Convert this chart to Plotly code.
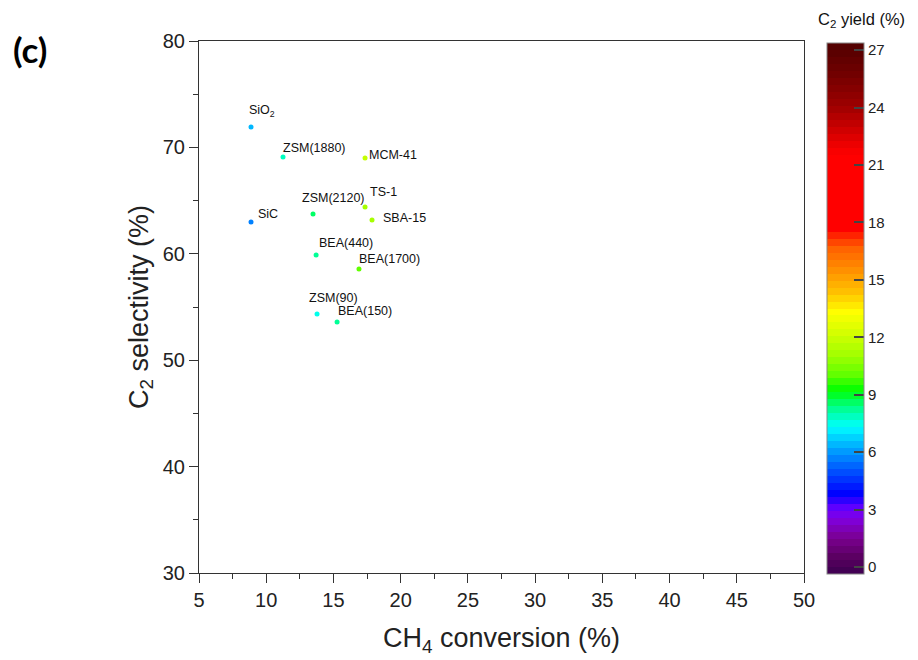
import plotly.graph_objects as go

# Catalyst screening: CH4 conversion vs C2 selectivity, coloured by C2 yield
catalysts = ["SiO<sub>2</sub>", "SiC", "ZSM(1880)", "MCM-41", "TS-1", "SBA-15",
             "ZSM(2120)", "BEA(440)", "BEA(1700)", "ZSM(90)", "BEA(150)"]
ch4_conversion = [8.87, 8.87, 11.25, 17.35, 17.35, 17.87, 13.48, 13.71, 16.90, 13.78, 15.27]
c2_selectivity = [71.92, 62.99, 69.10, 69.00, 64.40, 63.18, 63.74, 59.89, 58.57, 54.34, 53.59]
c2_yield = [6.4, 5.6, 7.8, 12.0, 11.2, 11.3, 8.6, 8.2, 9.9, 7.5, 8.2]

x_ticks = [5, 10, 15, 20, 25, 30, 35, 40, 45, 50]
y_ticks = [30, 40, 50, 60, 70, 80]
cbar_ticks = [0, 3, 6, 9, 12, 15, 18, 21, 24, 27]

# label offsets in pixels (left edge of text relative to the marker, dy downwards)
label_offsets = {
    "SiO<sub>2</sub>": (-4, -16), "SiC": (5, -8), "ZSM(1880)": (-2, -9),
    "MCM-41": (2, -3), "TS-1": (3, -15), "SBA-15": (9, -2),
    "ZSM(2120)": (-13, -16), "BEA(440)": (1, -12), "BEA(1700)": (-2, -10),
    "ZSM(90)": (-10, -16), "BEA(150)": (-1, -11),
}

# banded rainbow colour scale
cmin, cmax = -0.37, 27.37
anchors = [(-0.37, "#3c0050"), (0.5, "#5a0060"), (1.5, "#7a0090"), (2.5, "#8000e0"),
           (3.0, "#6a00ff"), (3.8, "#0000ff"), (5.2, "#0060ff"), (6.3, "#00b0ff"),
           (7.3, "#00ffff"), (8.4, "#00ff80"), (9.2, "#00ff00"), (10.0, "#60ff00"),
           (11.0, "#a0ff00"), (12.1, "#d0ff00"), (13.3, "#ffff00"), (14.4, "#ffc000"),
           (15.5, "#ff9000"), (16.7, "#ff6000"), (17.2, "#ff3000"), (17.7, "#ff0000"),
           (21.5, "#ff0000"), (22.0, "#f00000"), (22.8, "#d00000"), (24.0, "#a00000"),
           (25.8, "#700000"), (27.37, "#500000")]


def hex_rgb(h):
    return tuple(int(h[i:i + 2], 16) for i in (1, 3, 5))


def color_at(v):
    for (v0, c0), (v1, c1) in zip(anchors[:-1], anchors[1:]):
        if v <= v1:
            t = 0 if v1 == v0 else (v - v0) / (v1 - v0)
            t = min(max(t, 0), 1)
            a, b = hex_rgb(c0), hex_rgb(c1)
            return "rgb(%d,%d,%d)" % tuple(round(a[k] + (b[k] - a[k]) * t) for k in range(3))
    return "rgb(%d,%d,%d)" % hex_rgb(anchors[-1][1])


n_bands = 76
colorscale = []
for i in range(n_bands):
    c = color_at(cmin + (i + 0.5) / n_bands * (cmax - cmin))
    colorscale.append([i / n_bands, c])
    colorscale.append([(i + 1) / n_bands, c])

fig = go.Figure()
fig.add_trace(go.Scatter(
    x=ch4_conversion, y=c2_selectivity, mode="markers",
    marker=dict(size=5, color=c2_yield, colorscale=colorscale, cmin=cmin, cmax=cmax,
                line=dict(width=0),
                colorbar=dict(
                    thickness=37, len=0.998, lenmode="fraction", y=0.996, yanchor="top",
                    x=1.038, xanchor="left", xpad=0, ypad=0,
                    outlinecolor="#888888", outlinewidth=1,
                    tickmode="array", tickvals=cbar_ticks, ticks="inside", ticklen=10,
                    tickcolor="#444444", tickwidth=1.5,
                    tickfont=dict(family="Arial", size=15, color="#222222"),
                )),
    hoverinfo="skip", showlegend=False,
))

for name, cx, cy in zip(catalysts, ch4_conversion, c2_selectivity):
    dx, dy = label_offsets[name]
    fig.add_annotation(x=cx, y=cy, xref="x", yref="y", text=name, showarrow=False,
                       xanchor="left", yanchor="middle", xshift=dx, yshift=-dy,
                       font=dict(family="Arial", size=12.5, color="#111111"))

# colour bar heading and panel letter
fig.add_annotation(x=1.095, y=1.04, xref="paper", yref="paper",
                   text="C<sub>2</sub> yield (%)", showarrow=False,
                   xanchor="center", yanchor="middle",
                   font=dict(family="Arial", size=16.5, color="#111111"))
fig.add_annotation(x=-0.279, y=0.985, xref="paper", yref="paper", text="<b>(c)</b>",
                   showarrow=False, xanchor="center", yanchor="middle",
                   font=dict(family="Lato", size=35, color="#000000"))

axis_common = dict(showline=True, mirror=True, linecolor="#333333", linewidth=1.2,
                   ticks="outside", ticklen=9, tickwidth=1.2, tickcolor="#333333",
                   showgrid=False, zeroline=False,
                   tickfont=dict(family="Arial", size=20, color="#222222"))

fig.update_layout(
    width=918, height=660,
    margin=dict(l=199, r=114, t=41, b=87),
    paper_bgcolor="white", plot_bgcolor="white",
    xaxis=dict(range=[5, 50], tickmode="array", tickvals=x_ticks,
               minor=dict(tick0=5, dtick=2.5, ticklen=5, tickcolor="#333333", ticks="outside"),
               title=dict(text="CH<sub>4</sub> conversion (%)", standoff=18,
                          font=dict(family="Arial", size=27, color="#222222")),
               **axis_common),
    yaxis=dict(range=[30, 80], tickmode="array", tickvals=y_ticks,
               minor=dict(tick0=30, dtick=5, ticklen=5, tickcolor="#333333", ticks="outside"),
               title=dict(text="C<sub>2</sub> selectivity (%)", standoff=6,
                          font=dict(family="Arial", size=27, color="#222222")),
               **axis_common),
)

fig.write_html("out.html")
